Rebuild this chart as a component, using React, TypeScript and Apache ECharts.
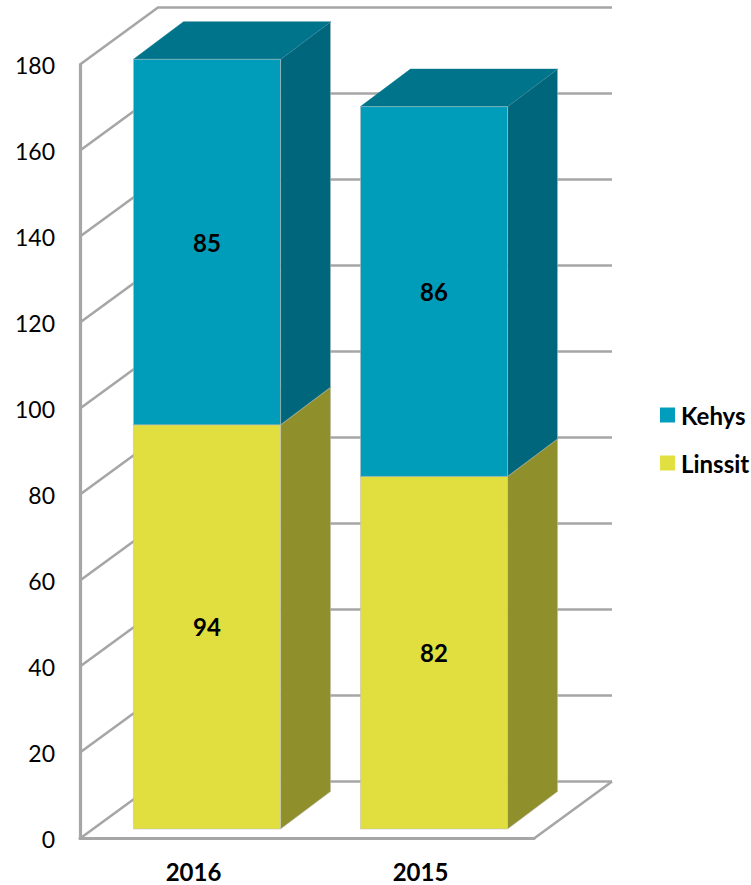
import React, { useEffect, useRef } from "react";
import * as echarts from "echarts";

const categories = ["2016", "2015"];
const linssit = [94, 82];
const kehys = [85, 86];
const yTicks = [0, 20, 40, 60, 80, 100, 120, 140, 160, 180];

const FONT = "Lato, 'Open Sans', sans-serif";
const GREY = "#A6A6A6";
const WALL_DX = 78;
const WALL_DY = -57;
const BAR_DX = 13.5;
const BAR_DY = -9.5;
const DEPTH_DX = 50;
const DEPTH_DY = -37.5;
const BAR_RATIO = 0.648;

function barRenderer(front: string, side: string, top: string) {
  return (_params: any, api: any) => {
    const i = api.value(0);
    const base = api.value(1);
    const val = api.value(2);
    const bandW = api.size([1, 0])[0];
    const w = bandW * BAR_RATIO;
    const p0 = api.coord([i, base]);
    const p1 = api.coord([i, base + val]);
    const x0 = p0[0] - w / 2 + BAR_DX;
    const x1 = x0 + w;
    const yb = p0[1] + BAR_DY;
    const yt = p1[1] + BAR_DY;
    const edge = { stroke: "rgba(190,190,190,0.55)", lineWidth: 1 };
    return {
      type: "group",
      children: [
        {
          type: "polygon",
          shape: { points: [[x1, yb], [x1 + DEPTH_DX, yb + DEPTH_DY], [x1 + DEPTH_DX, yt + DEPTH_DY], [x1, yt]] },
          style: { fill: side, ...edge },
        },
        {
          type: "polygon",
          shape: { points: [[x0, yt], [x1, yt], [x1 + DEPTH_DX, yt + DEPTH_DY], [x0 + DEPTH_DX, yt + DEPTH_DY]] },
          style: { fill: top, stroke: top, lineWidth: 0.5 },
        },
        {
          type: "rect",
          shape: { x: x0, y: yt, width: w, height: yb - yt },
          style: { fill: front, ...edge },
        },
        {
          type: "text",
          style: {
            text: String(val),
            x: (x0 + x1) / 2,
            y: (yb + yt) / 2,
            align: "center",
            verticalAlign: "middle",
            fontFamily: FONT,
            fontWeight: "bold",
            fontSize: 24,
            fill: "#000",
          },
        },
      ],
    };
  };
}

function wallRenderer(params: any, api: any) {
  const v = api.value(1);
  const y = api.coord([0, v])[1];
  const left = params.coordSys.x;
  const right = left + params.coordSys.width;
  const line = { stroke: GREY, lineWidth: 2.6, fill: "none" };
  const children: any[] = [
    {
      type: "polyline",
      shape: { points: [[left, y], [left + WALL_DX, y + WALL_DY], [right + WALL_DX, y + WALL_DY]] },
      style: line,
    },
  ];
  if (v === 0) {
    children.push({
      type: "line",
      shape: { x1: right, y1: y, x2: right + WALL_DX, y2: y + WALL_DY },
      style: line,
    });
  }
  return { type: "group", children };
}

export default function App() {
  const ref = useRef<HTMLDivElement>(null);
  useEffect(() => {
    document.body.style.margin = "0";
    const chart = echarts.init(ref.current!, undefined, { renderer: "svg" });
    chart.setOption({
      animation: false,
      backgroundColor: "#fff",
      textStyle: { fontFamily: FONT },
      grid: { left: 80, top: 64.5, width: 454, height: 774 },
      legend: {
        orient: "vertical",
        left: 660,
        top: 403,
        padding: 0,
        itemWidth: 15,
        itemHeight: 15,
        itemGap: 24,
        icon: "rect",
        data: ["Kehys", "Linssit"],
        textStyle: { fontFamily: FONT, fontWeight: "bold", fontSize: 24, color: "#000", padding: [0, 0, 0, 1] },
      },
      xAxis: {
        type: "category",
        data: categories,
        axisLine: { show: true, lineStyle: { color: GREY, width: 3.2 } },
        axisTick: { show: false },
        axisLabel: { color: "#000", fontFamily: FONT, fontWeight: "bold", fontSize: 24, margin: 21 },
      },
      yAxis: {
        type: "value",
        min: 0,
        max: 180,
        interval: 20,
        splitLine: { show: false },
        axisLine: { show: true, lineStyle: { color: GREY, width: 3.2 } },
        axisTick: { show: false },
        axisLabel: { color: "#000", fontFamily: FONT, fontSize: 23, margin: 25 },
      },
      series: [
        {
          type: "custom",
          name: "walls",
          silent: true,
          z: 1,
          clip: false,
          encode: { x: 0, y: 1 },
          data: yTicks.map((v) => [0, v]),
          renderItem: wallRenderer,
        },
        {
          type: "custom",
          name: "Linssit",
          z: 2,
          clip: false,
          itemStyle: { color: "#E2E040" },
          encode: { x: 0, y: 1 },
          data: categories.map((_, i) => [i, 0, linssit[i]]),
          renderItem: barRenderer("#E0DF3F", "#8F8F2C", "#A3A233"),
        },
        {
          type: "custom",
          name: "Kehys",
          z: 3,
          clip: false,
          itemStyle: { color: "#009DBD" },
          encode: { x: 0, y: 1 },
          data: categories.map((_, i) => [i, linssit[i], kehys[i]]),
          renderItem: barRenderer("#009DBB", "#00667B", "#00748A"),
        },
      ],
    });
    return () => chart.dispose();
  }, []);
  return <div ref={ref} style={{ width: 751, height: 885 }} />;
}
